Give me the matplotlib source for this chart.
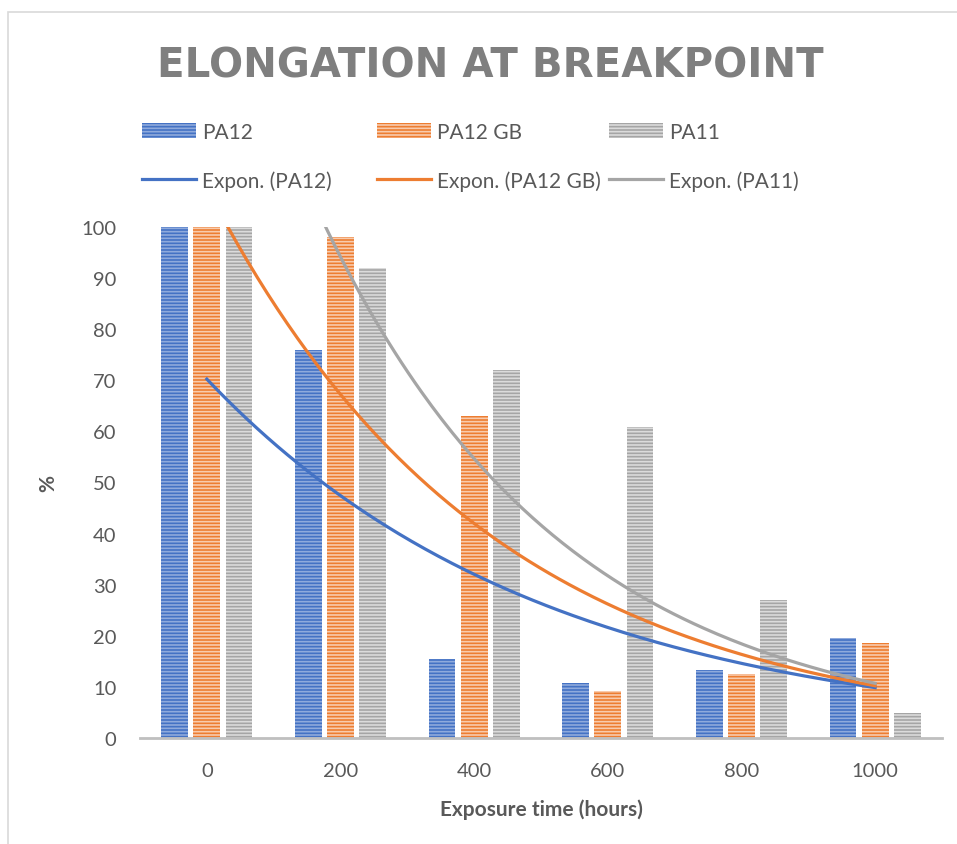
import numpy as np
import matplotlib.pyplot as plt
from matplotlib.patches import Rectangle

plt.rcParams['font.family'] = ['Lato', 'DejaVu Sans']
plt.rcParams['hatch.linewidth'] = 1.2

hours = [0, 200, 400, 600, 800, 1000]
pa12 = [100, 76, 15.5, 10.8, 13.4, 19.5]
pa12_gb = [100, 98, 63, 9.2, 12.6, 18.6]
pa11 = [100, 92, 72, 60.8, 27, 4.8]

series = [
    ('PA12', pa12, '#4472C4', '#8FAADC'),
    ('PA12 GB', pa12_gb, '#ED7D31', '#F8CBAD'),
    ('PA11', pa11, '#A5A5A5', '#DBDBDB'),
]

text_col = '#595959'

fig = plt.figure(figsize=(9.57, 8.45), dpi=100)
fig.patches.append(Rectangle((8 / 957, -0.1), 1.2, 1 - 13 / 845 + 0.1,
                             transform=fig.transFigure, fill=False,
                             edgecolor='#D9D9D9', lw=1.2))

ax = fig.add_axes([140 / 957, 1 - 739 / 845, 802 / 957, 511 / 845])

idx = np.arange(len(hours))
width = 0.2
step = 0.24

bar_handles = []
line_handles = []
xs = np.linspace(0, len(hours) - 1, 200)
for i, (name, vals, col, light) in enumerate(series):
    b = ax.bar(idx + (i - 1) * step, vals, width, color=col, edgecolor=light,
               linewidth=0, hatch='-----', label=name, zorder=2)
    bar_handles.append(b)
    # Excel exponential trendline (fit against category index 1..n)
    k, c = np.polyfit(idx + 1, np.log(vals), 1)
    ln, = ax.plot(xs, np.exp(c + k * (xs + 1)), color=col, lw=2.3,
                  label='Expon. (%s)' % name, zorder=3)
    line_handles.append(ln)

ax.set_xlim(-0.5, len(hours) - 0.5)
ax.set_ylim(0, 100)
ax.set_yticks(range(0, 101, 10))
ax.set_xticks(idx)
ax.set_xticklabels([str(h) for h in hours])
ax.tick_params(length=0, labelsize=14.5, colors=text_col)
ax.tick_params(axis='y', pad=17)
ax.tick_params(axis='x', pad=17)
for s in ['top', 'right', 'left']:
    ax.spines[s].set_visible(False)
ax.spines['bottom'].set_color('#BFBFBF')
ax.spines['bottom'].set_linewidth(2)
ax.spines['bottom'].set_zorder(4)

ax.set_xlabel('Exposure time (hours)', fontsize=15, fontweight='bold',
              color=text_col, labelpad=14)
ax.set_ylabel('%', fontsize=15, fontweight='bold', color=text_col)
ax.yaxis.set_label_coords(-0.102, 0.5)

fig.text(490 / 957, 1 - 67 / 845, 'ELONGATION AT BREAKPOINT', ha='center',
         va='center', fontsize=29, fontweight='bold', color='#7F7F7F',
         family='DejaVu Sans')

col_x = [142, 377, 609]
for j in range(3):
    lg = fig.legend([bar_handles[j], line_handles[j]],
                    [series[j][0], 'Expon. (%s)' % series[j][0]],
                    loc='upper left',
                    bbox_to_anchor=(col_x[j] / 957, 1 - 123 / 845),
                    frameon=False, fontsize=15, handlelength=2.6,
                    handleheight=0.7, handletextpad=0.3, labelspacing=1.35,
                    borderaxespad=0, borderpad=0)
    for t in lg.get_texts():
        t.set_color(text_col)

fig.savefig('out.png', dpi=100)
